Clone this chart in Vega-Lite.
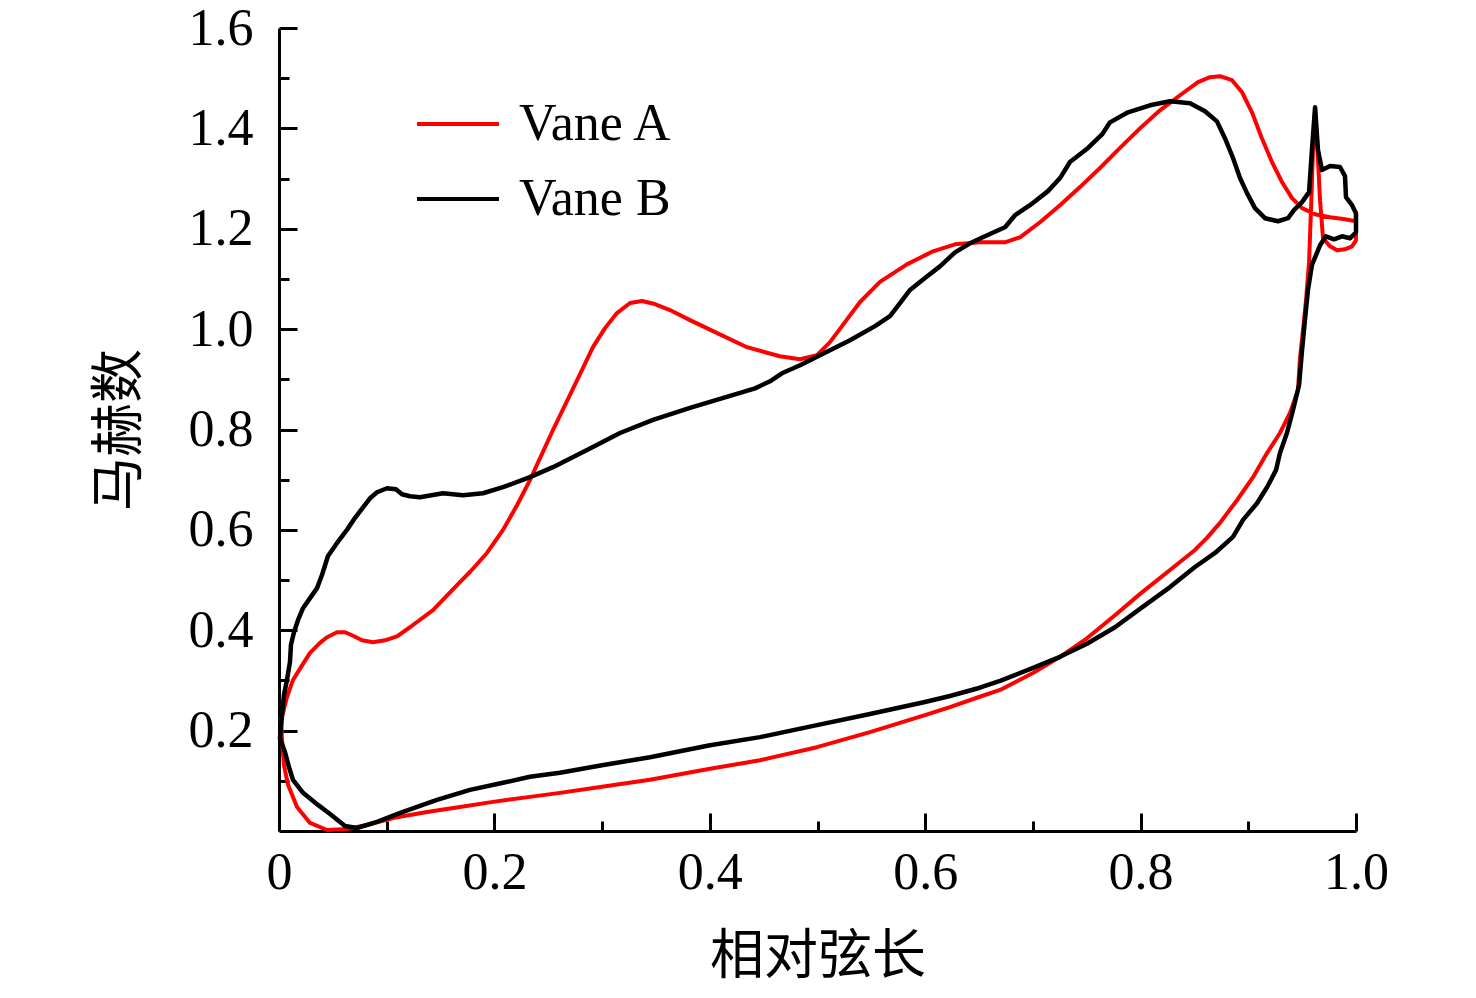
{
  "$schema": "https://vega.github.io/schema/vega-lite/v6.json",
  "description": "Mach number along relative chord for two vanes",
  "width": 1077,
  "height": 803,
  "autosize": {"type": "none"},
  "padding": {"left": 279, "top": 28, "right": 120, "bottom": 167},
  "background": "#ffffff",
  "config": {
    "view": {"stroke": null},
    "axis": {
      "grid": false,
      "domainColor": "#000000",
      "domainWidth": 3,
      "tickColor": "#000000",
      "tickWidth": 3,
      "labelFont": "Liberation Serif",
      "labelFontSize": 52,
      "labelColor": "#000000",
      "labelFlush": false,
      "labelOverlap": false,
      "labelBound": false,
      "titleFont": "Noto Sans CJK SC",
      "titleFontSize": 54,
      "titleFontWeight": "normal",
      "titleColor": "#000000"
    },
    "legend": {
      "orient": "none",
      "legendX": 136,
      "legendY": 53,
      "padding": 0,
      "symbolType": "stroke",
      "symbolSize": 6724,
      "symbolStrokeWidth": 4,
      "labelFont": "Liberation Serif",
      "labelFontSize": 52,
      "labelColor": "#000000",
      "labelOffset": 18,
      "rowPadding": 6
    }
  },
  "datasets": {
    "vaneA": [
      {"vane": "Vane A", "i": 1, "x": 0.0019, "y": 0.221},
      {"vane": "Vane A", "i": 2, "x": 0.0037, "y": 0.235},
      {"vane": "Vane A", "i": 3, "x": 0.0074, "y": 0.267},
      {"vane": "Vane A", "i": 4, "x": 0.013, "y": 0.301},
      {"vane": "Vane A", "i": 5, "x": 0.0223, "y": 0.333},
      {"vane": "Vane A", "i": 6, "x": 0.0288, "y": 0.355},
      {"vane": "Vane A", "i": 7, "x": 0.038, "y": 0.375},
      {"vane": "Vane A", "i": 8, "x": 0.0446, "y": 0.386},
      {"vane": "Vane A", "i": 9, "x": 0.0539, "y": 0.396},
      {"vane": "Vane A", "i": 10, "x": 0.0613, "y": 0.396},
      {"vane": "Vane A", "i": 11, "x": 0.0678, "y": 0.39},
      {"vane": "Vane A", "i": 12, "x": 0.0771, "y": 0.38},
      {"vane": "Vane A", "i": 13, "x": 0.0873, "y": 0.376},
      {"vane": "Vane A", "i": 14, "x": 0.0984, "y": 0.38},
      {"vane": "Vane A", "i": 15, "x": 0.1096, "y": 0.388},
      {"vane": "Vane A", "i": 16, "x": 0.1216, "y": 0.406},
      {"vane": "Vane A", "i": 17, "x": 0.143, "y": 0.44},
      {"vane": "Vane A", "i": 18, "x": 0.168, "y": 0.496},
      {"vane": "Vane A", "i": 19, "x": 0.1773, "y": 0.516},
      {"vane": "Vane A", "i": 20, "x": 0.1931, "y": 0.554},
      {"vane": "Vane A", "i": 21, "x": 0.208, "y": 0.6},
      {"vane": "Vane A", "i": 22, "x": 0.221, "y": 0.649},
      {"vane": "Vane A", "i": 23, "x": 0.233, "y": 0.699},
      {"vane": "Vane A", "i": 24, "x": 0.2544, "y": 0.799},
      {"vane": "Vane A", "i": 25, "x": 0.2767, "y": 0.898},
      {"vane": "Vane A", "i": 26, "x": 0.2915, "y": 0.964},
      {"vane": "Vane A", "i": 27, "x": 0.3027, "y": 1.002},
      {"vane": "Vane A", "i": 28, "x": 0.3138, "y": 1.032},
      {"vane": "Vane A", "i": 29, "x": 0.3259, "y": 1.052},
      {"vane": "Vane A", "i": 30, "x": 0.337, "y": 1.056},
      {"vane": "Vane A", "i": 31, "x": 0.349, "y": 1.05},
      {"vane": "Vane A", "i": 32, "x": 0.363, "y": 1.038},
      {"vane": "Vane A", "i": 33, "x": 0.3816, "y": 1.018},
      {"vane": "Vane A", "i": 34, "x": 0.403, "y": 0.996},
      {"vane": "Vane A", "i": 35, "x": 0.4345, "y": 0.964},
      {"vane": "Vane A", "i": 36, "x": 0.465, "y": 0.946},
      {"vane": "Vane A", "i": 37, "x": 0.4838, "y": 0.94},
      {"vane": "Vane A", "i": 38, "x": 0.4995, "y": 0.948},
      {"vane": "Vane A", "i": 39, "x": 0.5116, "y": 0.974},
      {"vane": "Vane A", "i": 40, "x": 0.5255, "y": 1.014},
      {"vane": "Vane A", "i": 41, "x": 0.5395, "y": 1.054},
      {"vane": "Vane A", "i": 42, "x": 0.558, "y": 1.094},
      {"vane": "Vane A", "i": 43, "x": 0.583, "y": 1.129},
      {"vane": "Vane A", "i": 44, "x": 0.6072, "y": 1.155},
      {"vane": "Vane A", "i": 45, "x": 0.6277, "y": 1.169},
      {"vane": "Vane A", "i": 46, "x": 0.651, "y": 1.173},
      {"vane": "Vane A", "i": 47, "x": 0.674, "y": 1.173},
      {"vane": "Vane A", "i": 48, "x": 0.688, "y": 1.183},
      {"vane": "Vane A", "i": 49, "x": 0.7066, "y": 1.213},
      {"vane": "Vane A", "i": 50, "x": 0.7252, "y": 1.247},
      {"vane": "Vane A", "i": 51, "x": 0.7437, "y": 1.283},
      {"vane": "Vane A", "i": 52, "x": 0.7623, "y": 1.321},
      {"vane": "Vane A", "i": 53, "x": 0.7809, "y": 1.361},
      {"vane": "Vane A", "i": 54, "x": 0.7994, "y": 1.4},
      {"vane": "Vane A", "i": 55, "x": 0.818, "y": 1.436},
      {"vane": "Vane A", "i": 56, "x": 0.8366, "y": 1.466},
      {"vane": "Vane A", "i": 57, "x": 0.8533, "y": 1.492},
      {"vane": "Vane A", "i": 58, "x": 0.8644, "y": 1.502},
      {"vane": "Vane A", "i": 59, "x": 0.8737, "y": 1.504},
      {"vane": "Vane A", "i": 60, "x": 0.8849, "y": 1.496},
      {"vane": "Vane A", "i": 61, "x": 0.8942, "y": 1.472},
      {"vane": "Vane A", "i": 62, "x": 0.9034, "y": 1.432},
      {"vane": "Vane A", "i": 63, "x": 0.9127, "y": 1.38},
      {"vane": "Vane A", "i": 64, "x": 0.922, "y": 1.333},
      {"vane": "Vane A", "i": 65, "x": 0.9313, "y": 1.293},
      {"vane": "Vane A", "i": 66, "x": 0.9406, "y": 1.261},
      {"vane": "Vane A", "i": 67, "x": 0.9499, "y": 1.241},
      {"vane": "Vane A", "i": 68, "x": 0.962, "y": 1.229},
      {"vane": "Vane A", "i": 69, "x": 0.9759, "y": 1.223},
      {"vane": "Vane A", "i": 70, "x": 0.9898, "y": 1.219},
      {"vane": "Vane A", "i": 71, "x": 1.0, "y": 1.215},
      {"vane": "Vane A", "i": 72, "x": 1.0, "y": 1.177},
      {"vane": "Vane A", "i": 73, "x": 0.9963, "y": 1.165},
      {"vane": "Vane A", "i": 74, "x": 0.9898, "y": 1.159},
      {"vane": "Vane A", "i": 75, "x": 0.9824, "y": 1.157},
      {"vane": "Vane A", "i": 76, "x": 0.9759, "y": 1.165},
      {"vane": "Vane A", "i": 77, "x": 0.9694, "y": 1.181},
      {"vane": "Vane A", "i": 78, "x": 0.9666, "y": 1.257},
      {"vane": "Vane A", "i": 79, "x": 0.9638, "y": 1.376},
      {"vane": "Vane A", "i": 80, "x": 0.962, "y": 1.44},
      {"vane": "Vane A", "i": 81, "x": 0.9601, "y": 1.357},
      {"vane": "Vane A", "i": 82, "x": 0.9582, "y": 1.237},
      {"vane": "Vane A", "i": 83, "x": 0.9564, "y": 1.133},
      {"vane": "Vane A", "i": 84, "x": 0.9536, "y": 1.058},
      {"vane": "Vane A", "i": 85, "x": 0.9508, "y": 0.998},
      {"vane": "Vane A", "i": 86, "x": 0.948, "y": 0.942},
      {"vane": "Vane A", "i": 87, "x": 0.9461, "y": 0.878},
      {"vane": "Vane A", "i": 88, "x": 0.9387, "y": 0.833},
      {"vane": "Vane A", "i": 89, "x": 0.9294, "y": 0.793},
      {"vane": "Vane A", "i": 90, "x": 0.9174, "y": 0.753},
      {"vane": "Vane A", "i": 91, "x": 0.9044, "y": 0.705},
      {"vane": "Vane A", "i": 92, "x": 0.8895, "y": 0.659},
      {"vane": "Vane A", "i": 93, "x": 0.8737, "y": 0.614},
      {"vane": "Vane A", "i": 94, "x": 0.8616, "y": 0.584},
      {"vane": "Vane A", "i": 95, "x": 0.8505, "y": 0.56},
      {"vane": "Vane A", "i": 96, "x": 0.8273, "y": 0.52},
      {"vane": "Vane A", "i": 97, "x": 0.8004, "y": 0.474},
      {"vane": "Vane A", "i": 98, "x": 0.7762, "y": 0.43},
      {"vane": "Vane A", "i": 99, "x": 0.7502, "y": 0.384},
      {"vane": "Vane A", "i": 100, "x": 0.7252, "y": 0.347},
      {"vane": "Vane A", "i": 101, "x": 0.7001, "y": 0.315},
      {"vane": "Vane A", "i": 102, "x": 0.6695, "y": 0.281},
      {"vane": "Vane A", "i": 103, "x": 0.65, "y": 0.267},
      {"vane": "Vane A", "i": 104, "x": 0.623, "y": 0.247},
      {"vane": "Vane A", "i": 105, "x": 0.5998, "y": 0.231},
      {"vane": "Vane A", "i": 106, "x": 0.5487, "y": 0.197},
      {"vane": "Vane A", "i": 107, "x": 0.4995, "y": 0.167},
      {"vane": "Vane A", "i": 108, "x": 0.4466, "y": 0.141},
      {"vane": "Vane A", "i": 109, "x": 0.4002, "y": 0.124},
      {"vane": "Vane A", "i": 110, "x": 0.3445, "y": 0.102},
      {"vane": "Vane A", "i": 111, "x": 0.2999, "y": 0.088},
      {"vane": "Vane A", "i": 112, "x": 0.2609, "y": 0.076},
      {"vane": "Vane A", "i": 113, "x": 0.233, "y": 0.068},
      {"vane": "Vane A", "i": 114, "x": 0.1987, "y": 0.058},
      {"vane": "Vane A", "i": 115, "x": 0.168, "y": 0.048},
      {"vane": "Vane A", "i": 116, "x": 0.1374, "y": 0.038},
      {"vane": "Vane A", "i": 117, "x": 0.1058, "y": 0.026},
      {"vane": "Vane A", "i": 118, "x": 0.0817, "y": 0.012},
      {"vane": "Vane A", "i": 119, "x": 0.0631, "y": 0.004},
      {"vane": "Vane A", "i": 120, "x": 0.0446, "y": 0.002},
      {"vane": "Vane A", "i": 121, "x": 0.0288, "y": 0.016},
      {"vane": "Vane A", "i": 122, "x": 0.0167, "y": 0.048},
      {"vane": "Vane A", "i": 123, "x": 0.0084, "y": 0.092},
      {"vane": "Vane A", "i": 124, "x": 0.0046, "y": 0.131},
      {"vane": "Vane A", "i": 125, "x": 0.0028, "y": 0.181},
      {"vane": "Vane A", "i": 126, "x": 0.0019, "y": 0.221}
    ],
    "vaneB": [
      {"vane": "Vane B", "i": 1, "x": 0.0009, "y": 0.185},
      {"vane": "Vane B", "i": 2, "x": 0.0028, "y": 0.231},
      {"vane": "Vane B", "i": 3, "x": 0.0046, "y": 0.271},
      {"vane": "Vane B", "i": 4, "x": 0.0074, "y": 0.301},
      {"vane": "Vane B", "i": 5, "x": 0.0102, "y": 0.337},
      {"vane": "Vane B", "i": 6, "x": 0.0111, "y": 0.371},
      {"vane": "Vane B", "i": 7, "x": 0.0139, "y": 0.396},
      {"vane": "Vane B", "i": 8, "x": 0.0176, "y": 0.42},
      {"vane": "Vane B", "i": 9, "x": 0.0223, "y": 0.444},
      {"vane": "Vane B", "i": 10, "x": 0.0288, "y": 0.464},
      {"vane": "Vane B", "i": 11, "x": 0.0353, "y": 0.484},
      {"vane": "Vane B", "i": 12, "x": 0.0399, "y": 0.51},
      {"vane": "Vane B", "i": 13, "x": 0.0455, "y": 0.548},
      {"vane": "Vane B", "i": 14, "x": 0.0539, "y": 0.574},
      {"vane": "Vane B", "i": 15, "x": 0.0631, "y": 0.6},
      {"vane": "Vane B", "i": 16, "x": 0.0706, "y": 0.624},
      {"vane": "Vane B", "i": 17, "x": 0.078, "y": 0.645},
      {"vane": "Vane B", "i": 18, "x": 0.0845, "y": 0.663},
      {"vane": "Vane B", "i": 19, "x": 0.091, "y": 0.675},
      {"vane": "Vane B", "i": 20, "x": 0.1003, "y": 0.683},
      {"vane": "Vane B", "i": 21, "x": 0.1086, "y": 0.681},
      {"vane": "Vane B", "i": 22, "x": 0.1142, "y": 0.671},
      {"vane": "Vane B", "i": 23, "x": 0.1216, "y": 0.667},
      {"vane": "Vane B", "i": 24, "x": 0.1309, "y": 0.665},
      {"vane": "Vane B", "i": 25, "x": 0.1523, "y": 0.673},
      {"vane": "Vane B", "i": 26, "x": 0.1708, "y": 0.669},
      {"vane": "Vane B", "i": 27, "x": 0.1894, "y": 0.673},
      {"vane": "Vane B", "i": 28, "x": 0.208, "y": 0.685},
      {"vane": "Vane B", "i": 29, "x": 0.233, "y": 0.705},
      {"vane": "Vane B", "i": 30, "x": 0.2544, "y": 0.725},
      {"vane": "Vane B", "i": 31, "x": 0.286, "y": 0.759},
      {"vane": "Vane B", "i": 32, "x": 0.3166, "y": 0.793},
      {"vane": "Vane B", "i": 33, "x": 0.3473, "y": 0.819},
      {"vane": "Vane B", "i": 34, "x": 0.3816, "y": 0.843},
      {"vane": "Vane B", "i": 35, "x": 0.4188, "y": 0.867},
      {"vane": "Vane B", "i": 36, "x": 0.442, "y": 0.882},
      {"vane": "Vane B", "i": 37, "x": 0.4559, "y": 0.896},
      {"vane": "Vane B", "i": 38, "x": 0.467, "y": 0.912},
      {"vane": "Vane B", "i": 39, "x": 0.4838, "y": 0.928},
      {"vane": "Vane B", "i": 40, "x": 0.5023, "y": 0.948},
      {"vane": "Vane B", "i": 41, "x": 0.5302, "y": 0.978},
      {"vane": "Vane B", "i": 42, "x": 0.5534, "y": 1.006},
      {"vane": "Vane B", "i": 43, "x": 0.5673, "y": 1.026},
      {"vane": "Vane B", "i": 44, "x": 0.5766, "y": 1.052},
      {"vane": "Vane B", "i": 45, "x": 0.5859, "y": 1.078},
      {"vane": "Vane B", "i": 46, "x": 0.5998, "y": 1.102},
      {"vane": "Vane B", "i": 47, "x": 0.6137, "y": 1.125},
      {"vane": "Vane B", "i": 48, "x": 0.6277, "y": 1.153},
      {"vane": "Vane B", "i": 49, "x": 0.6416, "y": 1.171},
      {"vane": "Vane B", "i": 50, "x": 0.6555, "y": 1.185},
      {"vane": "Vane B", "i": 51, "x": 0.6741, "y": 1.203},
      {"vane": "Vane B", "i": 52, "x": 0.6834, "y": 1.227},
      {"vane": "Vane B", "i": 53, "x": 0.6973, "y": 1.247},
      {"vane": "Vane B", "i": 54, "x": 0.714, "y": 1.275},
      {"vane": "Vane B", "i": 55, "x": 0.7252, "y": 1.301},
      {"vane": "Vane B", "i": 56, "x": 0.7344, "y": 1.333},
      {"vane": "Vane B", "i": 57, "x": 0.7512, "y": 1.361},
      {"vane": "Vane B", "i": 58, "x": 0.7642, "y": 1.388},
      {"vane": "Vane B", "i": 59, "x": 0.7716, "y": 1.412},
      {"vane": "Vane B", "i": 60, "x": 0.7883, "y": 1.432},
      {"vane": "Vane B", "i": 61, "x": 0.8087, "y": 1.446},
      {"vane": "Vane B", "i": 62, "x": 0.8273, "y": 1.454},
      {"vane": "Vane B", "i": 63, "x": 0.8459, "y": 1.45},
      {"vane": "Vane B", "i": 64, "x": 0.8598, "y": 1.434},
      {"vane": "Vane B", "i": 65, "x": 0.8709, "y": 1.414},
      {"vane": "Vane B", "i": 66, "x": 0.8784, "y": 1.38},
      {"vane": "Vane B", "i": 67, "x": 0.8858, "y": 1.341},
      {"vane": "Vane B", "i": 68, "x": 0.8923, "y": 1.301},
      {"vane": "Vane B", "i": 69, "x": 0.8988, "y": 1.271},
      {"vane": "Vane B", "i": 70, "x": 0.9062, "y": 1.241},
      {"vane": "Vane B", "i": 71, "x": 0.9155, "y": 1.221},
      {"vane": "Vane B", "i": 72, "x": 0.9276, "y": 1.215},
      {"vane": "Vane B", "i": 73, "x": 0.9369, "y": 1.221},
      {"vane": "Vane B", "i": 74, "x": 0.9424, "y": 1.237},
      {"vane": "Vane B", "i": 75, "x": 0.9499, "y": 1.253},
      {"vane": "Vane B", "i": 76, "x": 0.9564, "y": 1.273},
      {"vane": "Vane B", "i": 77, "x": 0.9591, "y": 1.357},
      {"vane": "Vane B", "i": 78, "x": 0.962, "y": 1.442},
      {"vane": "Vane B", "i": 79, "x": 0.9647, "y": 1.357},
      {"vane": "Vane B", "i": 80, "x": 0.9684, "y": 1.317},
      {"vane": "Vane B", "i": 81, "x": 0.9759, "y": 1.325},
      {"vane": "Vane B", "i": 82, "x": 0.9851, "y": 1.323},
      {"vane": "Vane B", "i": 83, "x": 0.9898, "y": 1.305},
      {"vane": "Vane B", "i": 84, "x": 0.9907, "y": 1.263},
      {"vane": "Vane B", "i": 85, "x": 0.9963, "y": 1.247},
      {"vane": "Vane B", "i": 86, "x": 1.0, "y": 1.231},
      {"vane": "Vane B", "i": 87, "x": 1.0, "y": 1.193},
      {"vane": "Vane B", "i": 88, "x": 0.9944, "y": 1.181},
      {"vane": "Vane B", "i": 89, "x": 0.987, "y": 1.185},
      {"vane": "Vane B", "i": 90, "x": 0.9796, "y": 1.179},
      {"vane": "Vane B", "i": 91, "x": 0.9721, "y": 1.185},
      {"vane": "Vane B", "i": 92, "x": 0.9666, "y": 1.167},
      {"vane": "Vane B", "i": 93, "x": 0.9591, "y": 1.128},
      {"vane": "Vane B", "i": 94, "x": 0.9554, "y": 1.078},
      {"vane": "Vane B", "i": 95, "x": 0.9526, "y": 1.018},
      {"vane": "Vane B", "i": 96, "x": 0.9499, "y": 0.958},
      {"vane": "Vane B", "i": 97, "x": 0.9471, "y": 0.888},
      {"vane": "Vane B", "i": 98, "x": 0.9415, "y": 0.839},
      {"vane": "Vane B", "i": 99, "x": 0.9359, "y": 0.793},
      {"vane": "Vane B", "i": 100, "x": 0.9294, "y": 0.753},
      {"vane": "Vane B", "i": 101, "x": 0.9257, "y": 0.719},
      {"vane": "Vane B", "i": 102, "x": 0.9174, "y": 0.685},
      {"vane": "Vane B", "i": 103, "x": 0.9081, "y": 0.653},
      {"vane": "Vane B", "i": 104, "x": 0.8951, "y": 0.62},
      {"vane": "Vane B", "i": 105, "x": 0.8858, "y": 0.586},
      {"vane": "Vane B", "i": 106, "x": 0.8691, "y": 0.554},
      {"vane": "Vane B", "i": 107, "x": 0.8505, "y": 0.526},
      {"vane": "Vane B", "i": 108, "x": 0.8273, "y": 0.486},
      {"vane": "Vane B", "i": 109, "x": 0.8004, "y": 0.444},
      {"vane": "Vane B", "i": 110, "x": 0.7762, "y": 0.406},
      {"vane": "Vane B", "i": 111, "x": 0.7502, "y": 0.373},
      {"vane": "Vane B", "i": 112, "x": 0.7252, "y": 0.347},
      {"vane": "Vane B", "i": 113, "x": 0.7001, "y": 0.325},
      {"vane": "Vane B", "i": 114, "x": 0.6695, "y": 0.299},
      {"vane": "Vane B", "i": 115, "x": 0.65, "y": 0.285},
      {"vane": "Vane B", "i": 116, "x": 0.623, "y": 0.269},
      {"vane": "Vane B", "i": 117, "x": 0.5998, "y": 0.257},
      {"vane": "Vane B", "i": 118, "x": 0.5487, "y": 0.233},
      {"vane": "Vane B", "i": 119, "x": 0.4995, "y": 0.211},
      {"vane": "Vane B", "i": 120, "x": 0.4466, "y": 0.187},
      {"vane": "Vane B", "i": 121, "x": 0.4002, "y": 0.171},
      {"vane": "Vane B", "i": 122, "x": 0.3445, "y": 0.147},
      {"vane": "Vane B", "i": 123, "x": 0.2999, "y": 0.131},
      {"vane": "Vane B", "i": 124, "x": 0.2609, "y": 0.116},
      {"vane": "Vane B", "i": 125, "x": 0.233, "y": 0.108},
      {"vane": "Vane B", "i": 126, "x": 0.208, "y": 0.096},
      {"vane": "Vane B", "i": 127, "x": 0.1773, "y": 0.082},
      {"vane": "Vane B", "i": 128, "x": 0.1467, "y": 0.062},
      {"vane": "Vane B", "i": 129, "x": 0.1151, "y": 0.038},
      {"vane": "Vane B", "i": 130, "x": 0.091, "y": 0.018},
      {"vane": "Vane B", "i": 131, "x": 0.0724, "y": 0.006},
      {"vane": "Vane B", "i": 132, "x": 0.0613, "y": 0.01},
      {"vane": "Vane B", "i": 133, "x": 0.0474, "y": 0.034},
      {"vane": "Vane B", "i": 134, "x": 0.0362, "y": 0.052},
      {"vane": "Vane B", "i": 135, "x": 0.0223, "y": 0.076},
      {"vane": "Vane B", "i": 136, "x": 0.013, "y": 0.102},
      {"vane": "Vane B", "i": 137, "x": 0.0093, "y": 0.127},
      {"vane": "Vane B", "i": 138, "x": 0.0056, "y": 0.157},
      {"vane": "Vane B", "i": 139, "x": 0.0009, "y": 0.185}
    ]
  },
  "encoding": {
    "x": {
      "field": "x",
      "type": "quantitative",
      "scale": {"domain": [0, 1], "nice": false, "zero": false},
      "axis": {
        "title": "相对弦长",
        "values": [0, 0.1, 0.2, 0.3, 0.4, 0.5, 0.6, 0.7, 0.8, 0.9, 1.0],
        "labelExpr": "datum.value == 0 ? '0' : (round(datum.value * 10) % 2 == 0 ? format(datum.value, '.1f') : '')",
        "tickSize": {"condition": {"test": "round(datum.value * 10) % 2 == 0", "value": -18}, "value": -10},
        "labelPadding": 34,
        "titlePadding": 24
      }
    },
    "y": {
      "field": "y",
      "type": "quantitative",
      "scale": {"domain": [0, 1.6], "nice": false},
      "axis": {
        "title": "马赫数",
        "values": [0.1, 0.2, 0.3, 0.4, 0.5, 0.6, 0.7, 0.8, 0.9, 1.0, 1.1, 1.2, 1.3, 1.4, 1.5, 1.6],
        "labelExpr": "round(datum.value * 10) % 2 == 0 ? format(datum.value, '.1f') : ''",
        "tickSize": {"condition": {"test": "round(datum.value * 10) % 2 == 0", "value": -18}, "value": -10},
        "labelPadding": 44,
        "titlePadding": 41
      }
    },
    "order": {"field": "i", "type": "quantitative"},
    "color": {
      "field": "vane",
      "type": "nominal",
      "scale": {"domain": ["Vane A", "Vane B"], "range": ["#ff0000", "#000000"]},
      "legend": {"title": null}
    }
  },
  "layer": [
    {
      "data": {"name": "vaneA"},
      "mark": {"type": "line", "strokeWidth": 4, "strokeJoin": "round", "strokeCap": "round"}
    },
    {
      "data": {"name": "vaneB"},
      "mark": {"type": "line", "strokeWidth": 4.5, "strokeJoin": "round", "strokeCap": "round"}
    }
  ]
}
